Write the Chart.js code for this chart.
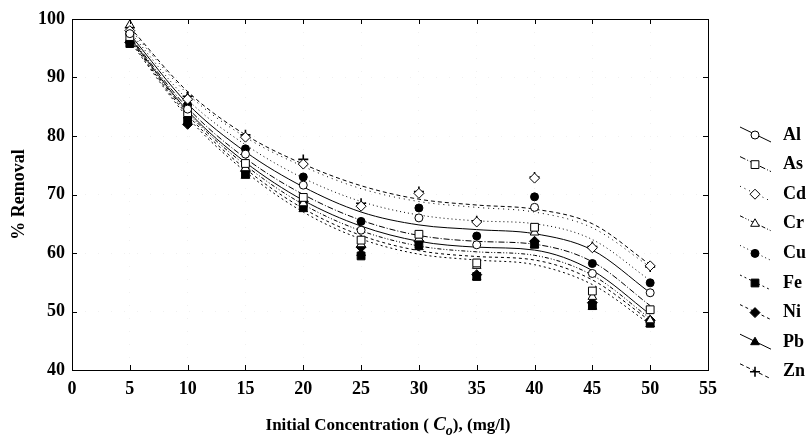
<!DOCTYPE html>
<html><head><meta charset="utf-8">
<script src="https://cdn.jsdelivr.net/npm/chart.js@4/dist/chart.umd.min.js"></script>
<style>html,body{margin:0;padding:0;background:#fff}</style>
</head><body>
<canvas id="c" width="806" height="438"></canvas>
<script>
// ---- data ----
const concentrations = [5, 10, 15, 20, 25, 30, 35, 40, 45, 50];
const xTickValues = [0, 5, 10, 15, 20, 25, 30, 35, 40, 45, 50, 55];
const yTickValues = [40, 50, 60, 70, 80, 90, 100];
const metals = ["Al", "As", "Cd", "Cr", "Cu", "Fe", "Ni", "Pb", "Zn"];

// measured % removal
const alRemoval = [97.5, 84.6, 76.9, 71.6, 63.9, 66.0, 61.4, 67.8, 56.5, 53.2];
const asRemoval = [97.0, 84.0, 75.3, 69.5, 62.2, 63.2, 58.3, 64.4, 53.5, 50.3];
const cdRemoval = [98.0, 86.3, 79.8, 75.2, 68.0, 70.2, 65.3, 72.8, 60.9, 57.8];
const crRemoval = [99.0, 86.5, 74.5, 68.5, 61.5, 62.5, 57.8, 63.5, 52.5, 48.5];
const cuRemoval = [97.5, 85.3, 77.8, 73.0, 65.4, 67.7, 62.9, 69.6, 58.2, 54.9];
const feRemoval = [95.8, 82.5, 73.5, 68.0, 59.5, 61.5, 56.0, 61.5, 51.0, 48.0];
const niRemoval = [96.0, 82.0, 74.0, 68.8, 61.0, 62.0, 56.3, 62.0, 51.5, 48.5];
const pbRemoval = [96.5, 83.5, 73.2, 67.5, 60.0, 61.0, 55.8, 61.3, 50.8, 47.8];
const znRemoval = [98.5, 86.8, 80.2, 76.0, 68.5, 70.5, 65.5, 73.0, 61.1, 57.6];

// fitted curves (at each concentration)
const alFit = [97.4, 85.5, 77.3, 71.3, 67.0, 64.8, 64.0, 63.3, 60.5, 53.2];
const asFit = [97.0, 84.8, 76.2, 70.0, 65.6, 63.0, 62.0, 61.5, 58.5, 51.0];
const cdFit = [98.3, 87.2, 79.8, 74.8, 71.0, 68.8, 67.8, 67.0, 64.3, 57.6];
const crFit = [96.6, 84.0, 75.0, 68.3, 63.8, 61.2, 60.2, 59.6, 56.2, 48.8];
const cuFit = [97.8, 86.2, 78.5, 72.8, 68.8, 66.5, 65.5, 65.0, 62.3, 55.3];
const feFit = [96.2, 83.2, 73.9, 67.0, 62.4, 59.8, 58.8, 58.0, 54.6, 47.8];
const niFit = [96.4, 83.6, 74.4, 67.6, 63.0, 60.4, 59.4, 58.8, 55.4, 48.4];
const pbFit = [96.8, 84.3, 75.5, 69.0, 64.6, 62.0, 61.0, 60.5, 57.0, 49.5];
const znFit = [98.6, 87.6, 80.2, 75.2, 71.5, 69.2, 68.2, 67.5, 65.0, 58.0];

const removals = [alRemoval, asRemoval, cdRemoval, crRemoval, cuRemoval, feRemoval, niRemoval, pbRemoval, znRemoval];
const fits = [alFit, asFit, cdFit, crFit, cuFit, feFit, niFit, pbFit, znFit];

// ---- styles ----
const styles = [
  {ps: 'circle',   r: 4,   fill: '#fff', dash: []},
  {ps: 'rect',     r: 5.5, fill: '#fff', dash: [6, 2, 1, 2]},
  {ps: 'rectRot',  r: 5,   fill: '#fff', dash: [1, 4]},
  {ps: 'triangle', r: 5,   fill: '#fff', dash: [4, 2, 1, 2, 1, 2]},
  {ps: 'circle',   r: 4,   fill: '#000', dash: [1, 3]},
  {ps: 'rect',     r: 5.5, fill: '#000', dash: [2, 3]},
  {ps: 'rectRot',  r: 5,   fill: '#000', dash: [3, 3]},
  {ps: 'triangle', r: 5,   fill: '#000', dash: []},
  {ps: 'cross',    r: 5,   fill: '#000', dash: [4, 3]}
];
const SERIF = '"Liberation Serif", "Times New Roman", serif';

const datasets = [];
metals.forEach((m, i) => {
  datasets.push({
    label: m + ' fit',
    data: concentrations.map((x, k) => ({x, y: fits[i][k]})),
    borderColor: '#000', borderWidth: 1, borderDash: styles[i].dash,
    pointRadius: 0, cubicInterpolationMode: 'monotone', fill: false, order: 2
  });
});
metals.forEach((m, i) => {
  datasets.push({
    label: m,
    data: concentrations.map((x, k) => ({x, y: removals[i][k]})),
    showLine: false,
    pointStyle: styles[i].ps, pointRadius: styles[i].r,
    pointBackgroundColor: styles[i].fill, pointBorderColor: '#000', pointBorderWidth: styles[i].ps === 'cross' ? 1.6 : 1,
    order: 1
  });
});

function marker(ctx, st, x, y) {
  const r = st.r;
  ctx.save();
  ctx.setLineDash([]);
  ctx.lineWidth = st.ps === 'cross' ? 1.6 : 1;
  ctx.strokeStyle = '#000';
  ctx.fillStyle = st.fill;
  ctx.beginPath();
  if (st.ps === 'circle') { ctx.arc(x, y, r, 0, Math.PI * 2); }
  else if (st.ps === 'rect') { const s = r * Math.SQRT1_2; ctx.rect(x - s, y - s, 2 * s, 2 * s); }
  else if (st.ps === 'rectRot') { ctx.moveTo(x, y - r); ctx.lineTo(x + r, y); ctx.lineTo(x, y + r); ctx.lineTo(x - r, y); ctx.closePath(); }
  else if (st.ps === 'triangle') { ctx.moveTo(x, y - r); ctx.lineTo(x + 0.866 * r, y + 0.5 * r); ctx.lineTo(x - 0.866 * r, y + 0.5 * r); ctx.closePath(); }
  else if (st.ps === 'cross') { ctx.moveTo(x, y - r); ctx.lineTo(x, y + r); ctx.moveTo(x - r, y); ctx.lineTo(x + r, y); ctx.stroke(); ctx.restore(); return; }
  ctx.fill(); ctx.stroke();
  ctx.restore();
}

const decor = {
  id: 'decor',
  afterDraw(chart) {
    const ctx = chart.ctx, a = chart.chartArea;
    const xs = chart.scales.x, ys = chart.scales.y;
    ctx.save();
    // frame
    ctx.strokeStyle = '#000'; ctx.lineWidth = 1; ctx.setLineDash([]);
    ctx.strokeRect(Math.round(a.left) + 0.5, Math.round(a.top) + 0.5, Math.round(a.right - a.left), Math.round(a.bottom - a.top));
    // inward ticks
    ctx.beginPath();
    xTickValues.forEach(v => {
      const px = Math.round(xs.getPixelForValue(v)) + 0.5;
      ctx.moveTo(px, a.bottom); ctx.lineTo(px, a.bottom - 5);
      ctx.moveTo(px, a.top); ctx.lineTo(px, a.top + 5);
    });
    yTickValues.forEach(v => {
      const py = Math.round(ys.getPixelForValue(v)) + 0.5;
      ctx.moveTo(a.left, py); ctx.lineTo(a.left + 5, py);
      ctx.moveTo(a.right, py); ctx.lineTo(a.right - 5, py);
    });
    ctx.stroke();

    // y title
    ctx.fillStyle = '#000';
    ctx.save();
    ctx.translate(19, (a.top + a.bottom) / 2);
    ctx.rotate(-Math.PI / 2);
    ctx.font = 'bold 18px ' + SERIF;
    ctx.textAlign = 'center'; ctx.textBaseline = 'middle';
    ctx.fillText('% Removal', 0, 0);
    ctx.restore();

    // x title with italic C and subscript o
    const parts = [
      {t: 'Initial Concentration ( ', f: 'bold 17px ' + SERIF, dy: 0},
      {t: 'C', f: 'italic bold 19px ' + SERIF, dy: 0},
      {t: 'o', f: 'italic bold 14px ' + SERIF, dy: 5},
      {t: '), (mg/l)', f: 'bold 17px ' + SERIF, dy: 0}
    ];
    let total = 0;
    parts.forEach(p => { ctx.font = p.f; p.w = ctx.measureText(p.t).width; total += p.w; });
    let cx = 388 - total / 2;
    ctx.textAlign = 'left'; ctx.textBaseline = 'alphabetic';
    parts.forEach(p => { ctx.font = p.f; ctx.fillText(p.t, cx, 430 + p.dy); cx += p.w; });

    // legend
    metals.forEach((m, i) => {
      const y = 135 + i * 29.6;
      const st = styles[i];
      ctx.save();
      ctx.lineWidth = 1; ctx.strokeStyle = '#000';
      ctx.setLineDash(st.dash.length ? st.dash : []);
      ctx.beginPath(); ctx.moveTo(740, y - 8); ctx.lineTo(771, y + 7); ctx.stroke();
      ctx.restore();
      marker(ctx, st, 755, y);
      ctx.font = 'bold 18px ' + SERIF;
      ctx.textAlign = 'left'; ctx.textBaseline = 'middle';
      ctx.fillStyle = '#000';
      ctx.fillText(m, 783, y);
    });
    ctx.restore();
  }
};

new Chart(document.getElementById('c'), {
  type: 'line',
  data: {datasets},
  options: {
    responsive: false, animation: false,
    layout: {padding: {top: 19, right: 98, left: 0, bottom: 0}},
    plugins: {legend: {display: false}, tooltip: {enabled: false}},
    scales: {
      x: {
        type: 'linear', min: 0, max: 55,
        afterBuildTicks: s => { s.ticks = xTickValues.map(v => ({value: v})); },
        afterFit: s => { s.height = 68; },
        grid: {color: 'rgba(0,0,0,0.06)', drawTicks: false, lineWidth: 1},
        border: {display: false, dash: [1, 12]},
        ticks: {color: '#000', padding: 9, maxRotation: 0, font: {family: SERIF, size: 18, weight: 'bold'}}
      },
      y: {
        type: 'linear', min: 40, max: 100,
        afterBuildTicks: s => { s.ticks = yTickValues.map(v => ({value: v})); },
        afterFit: s => { s.width = 72; },
        grid: {color: 'rgba(0,0,0,0.06)', drawTicks: false, lineWidth: 1},
        border: {display: false, dash: [1, 12]},
        ticks: {color: '#000', padding: 7, font: {family: SERIF, size: 18, weight: 'bold'}}
      }
    }
  },
  plugins: [decor]
});
</script>
</body></html>
